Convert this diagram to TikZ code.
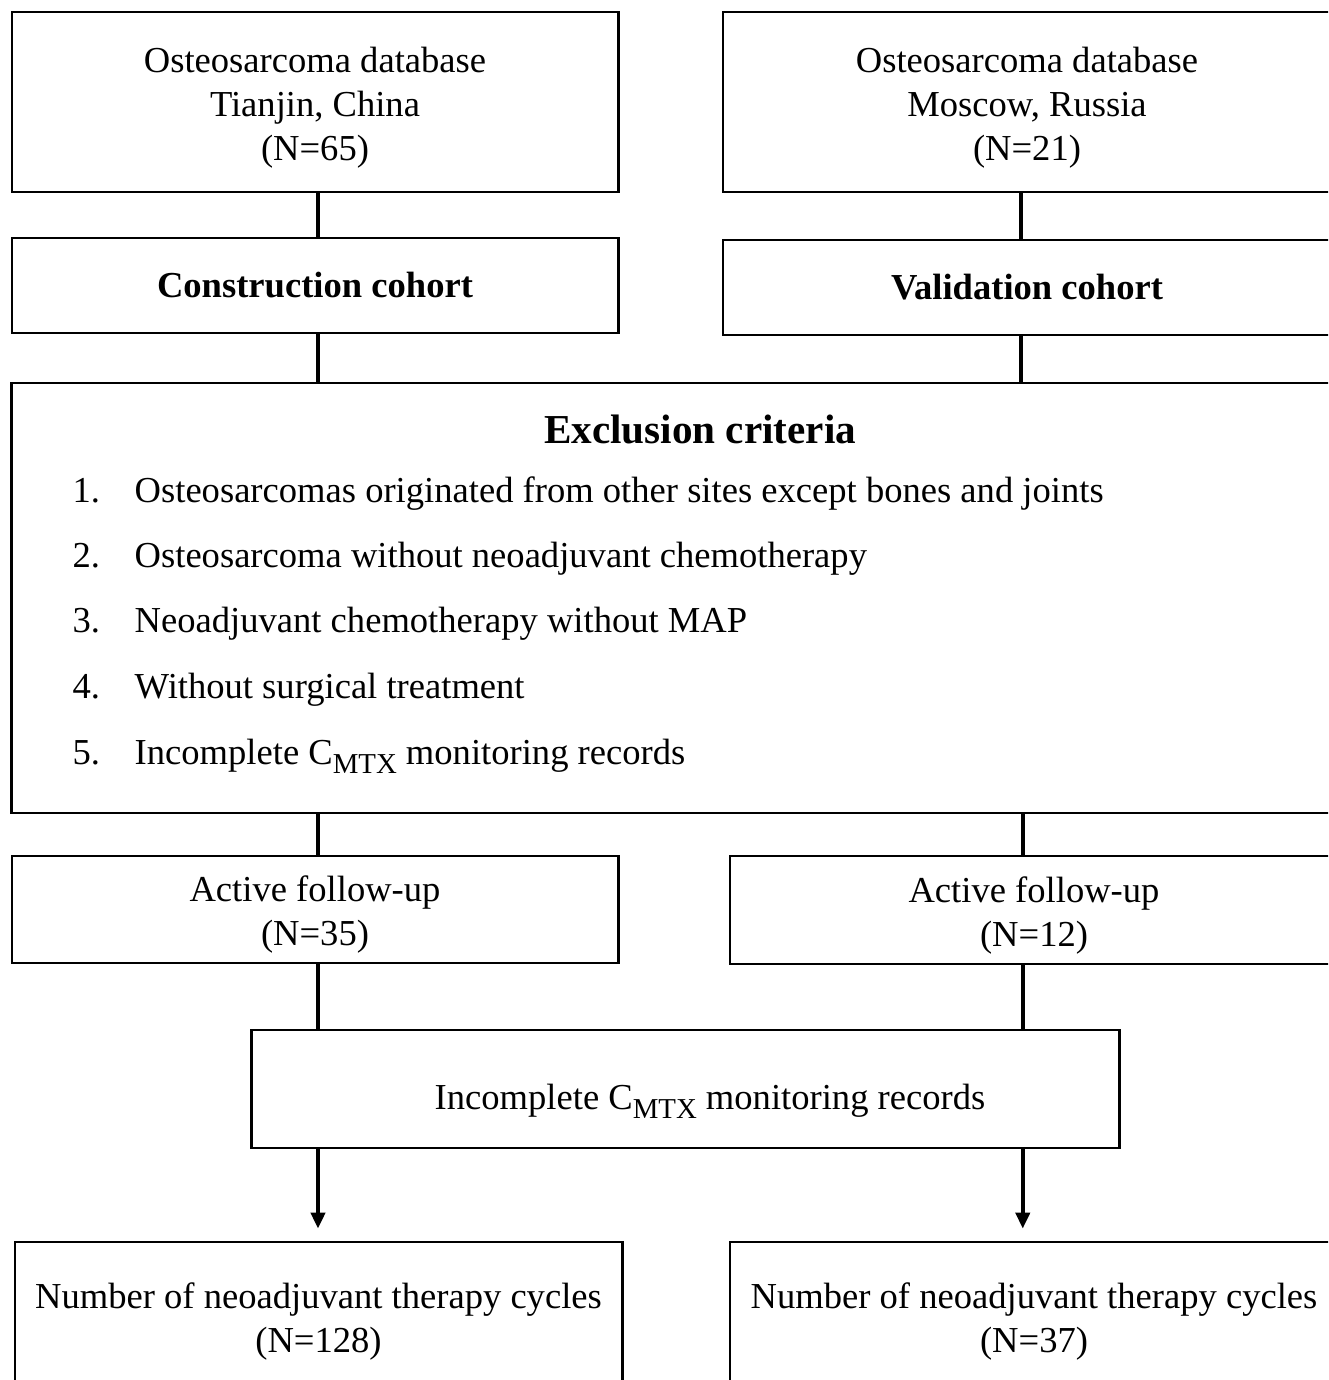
\documentclass[tikz,border=0pt]{standalone}
\usepackage{fontspec}
\setmainfont{Liberation Serif}
\usepackage{tikz}
\usetikzlibrary{arrows.meta,calc,positioning}
\tikzset{>=Triangle}
\tikzset{
  box/.style={draw, line width=0.75pt, fill=white, inner sep=0pt, align=center},
  link/.style={line width=1.15pt},
  arrow/.style={-{Triangle[length=4.6pt, width=4pt]}, line width=1.15pt, shorten >=3.4pt},
  item/.style={anchor=west, inner sep=0pt, text height=1.6ex, text depth=0.5ex},
}
\newcommand{\cmtx}{C\lower0.55ex\hbox{\fontsize{8.2}{9}\selectfont MTX}}
\newcommand{\topstrut}{\rule{0pt}{10.4pt}}

\begin{document}
\fontsize{10.4}{12.5}\selectfont
\begin{tikzpicture}[x=0.01cm, y=-0.01cm]
\clip (0,0) rectangle (1328,1380);
% --- columns of the connectors ---
\coordinate (colA) at (318,0);
\coordinate (colB) at (1021,0);

% --- databases ---
\node[box, minimum width=6.06cm, minimum height=1.80cm] (A1) at (315,102)
{\topstrut Osteosarcoma database\\Tianjin, China\\(N=65)};
\node[box, minimum width=6.08cm, minimum height=1.80cm] (B1) at (1027,102)
{\topstrut Osteosarcoma database\\Moscow, Russia\\(N=21)};

% --- cohorts ---
\node[box, minimum width=6.06cm, minimum height=0.95cm] (A2) at (315,285.5)
{\bfseries Construction cohort};
\node[box, minimum width=6.08cm, minimum height=0.95cm] (B2) at (1027,287.5)
{\bfseries Validation cohort};

% --- exclusion criteria ---
\node[box, minimum width=13.76cm, minimum height=4.30cm] (Excl) at (700,598) {};
\node[inner sep=0pt] (ExclT) at (700,429) {\fontsize{11.7}{14}\selectfont\bfseries Exclusion criteria};
\foreach \i/\y/\txt in {1/493/Osteosarcomas originated from other sites except bones and joints,
                        2/558/Osteosarcoma without neoadjuvant chemotherapy,
                        3/623/Neoadjuvant chemotherapy without MAP,
                        4/689/Without surgical treatment,
                        5/755/Incomplete \cmtx{} monitoring records}{
  \node[item] (n\i) at (72,\y) {\i.};
  \node[item] (c\i) at (134,\y) {\txt};
}

% --- follow-up ---
\node[box, minimum width=6.06cm, minimum height=1.07cm] (A3) at (315,909.5)
{\topstrut Active follow-up\\(N=35)};
\node[box, minimum width=6.08cm, minimum height=1.08cm] (B3) at (1034,910)
{\topstrut Active follow-up\\(N=12)};

% --- second exclusion ---
\node[box, minimum width=8.67cm, minimum height=1.18cm] (Mid) at (685.5,1089) {};
\node[inner sep=0pt] (MidT) at (710,1101) {Incomplete \cmtx{} monitoring records};

% --- cycles ---
\node[box, minimum width=6.07cm, minimum height=1.48cm] (OutA) at (318.5,1316)
{\topstrut Number of neoadjuvant therapy cycles\\(N=128)};
\node[box, minimum width=6.08cm, minimum height=1.48cm] (OutB) at (1034,1316)
{\topstrut Number of neoadjuvant therapy cycles\\(N=37)};

% --- connectors ---
\draw[link] (A1.south -| colA) -- (A2.north -| colA);
\draw[link] (B1.south -| colB) -- (B2.north -| colB);
\draw[link] (A2.south -| colA) -- (Excl.north -| colA);
\draw[link] (B2.south -| colB) -- (Excl.north -| colB);
\draw[link] (Excl.south -| colA) -- (A3.north -| colA);
\draw[link] ([xshift=0.5pt]Excl.south -| colB) -- ([xshift=0.5pt]B3.north -| colB);
\draw[link] (A3.south -| colA) -- (Mid.north -| colA);
\draw[link] ([xshift=0.5pt]B3.south -| colB) -- ([xshift=0.5pt]Mid.north -| colB);
\draw[arrow] (Mid.south -| colA) -- (OutA.north -| colA);
\draw[arrow] ([xshift=0.5pt]Mid.south -| colB) -- ([xshift=0.5pt]OutB.north -| colB);
\end{tikzpicture}
\end{document}
